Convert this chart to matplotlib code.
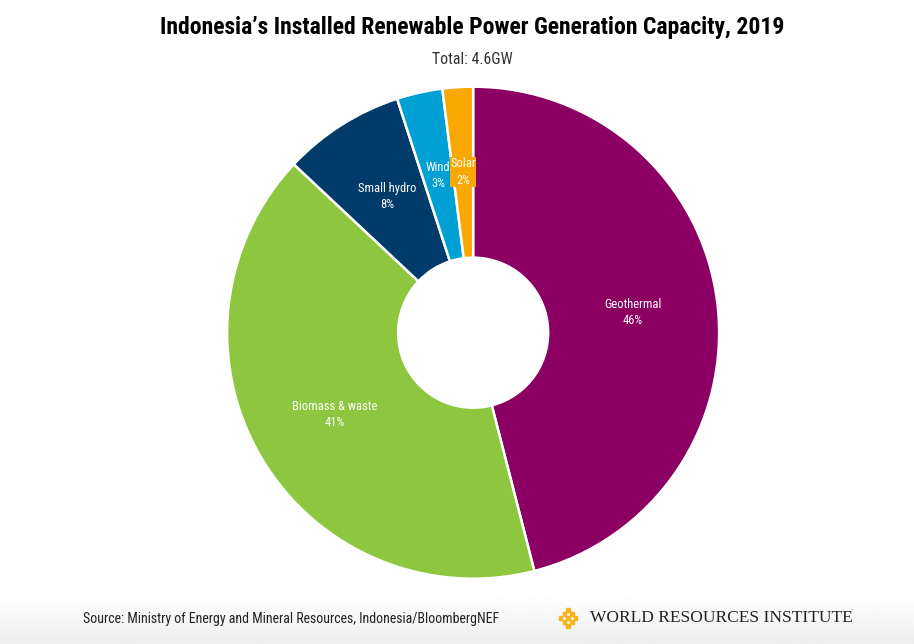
import numpy as np
import matplotlib.pyplot as plt

plt.rcParams['font.family'] = ['Roboto Condensed', 'DejaVu Sans']

# data
sources = ['Geothermal', 'Biomass & waste', 'Small hydro', 'Wind', 'Solar']
shares = [46, 41, 8, 3, 2]
colors = ['#8B0062', '#8DC63F', '#003B6B', '#009FD4', '#F8A800']

fig = plt.figure(figsize=(9.14, 6.44), dpi=100)

# light gradient band at the bottom
bg = fig.add_axes([0, 0, 1, 0.075])
grad = np.linspace(1.0, 0.93, 50).reshape(-1, 1)
bg.imshow(grad, aspect='auto', cmap='gray', vmin=0, vmax=1, extent=[0, 1, 0, 1])
bg.axis('off')

ax = fig.add_axes([0.2485, 0.1014, 0.5383, 0.764])
wedges, _ = ax.pie(shares, colors=colors, startangle=90, counterclock=False,
                   radius=1.0, wedgeprops=dict(width=0.695, edgecolor='white', linewidth=1.8))
ax.set_xlim(-1.0, 1.0)
ax.set_ylim(-1.0, 1.0)
ax.set_aspect('equal')

# labels
angle = 90.0
for name, val in zip(sources, shares):
    span = val / 100 * 360
    mid = np.deg2rad(angle - span / 2)
    angle -= span
    r = 0.655
    x, y = r * np.cos(mid), r * np.sin(mid)
    kw = {}
    if name == 'Solar':
        kw['bbox'] = dict(boxstyle='square,pad=0.05', fc='#F8A800', ec='none')
    ax.text(x, y, f'{name}\n{val}%', ha='center', va='center', color='white',
            fontsize=9, linespacing=1.35, **kw)

fig.text(0.517, 0.957, 'Indonesia\u2019s Installed Renewable Power Generation Capacity, 2019',
         ha='center', va='center', fontsize=17, fontweight=800, color='black')
fig.text(0.517, 0.907, 'Total: 4.6GW', ha='center', va='center', fontsize=11.4, color='#333333')
fig.text(0.091, 0.039, 'Source: Ministry of Energy and Mineral Resources, Indonesia/BloombergNEF',
         ha='left', va='center', fontsize=10, color='#222222')

# logo
lg = fig.add_axes([0.607, 0.019, 0.029, 0.043])
for i in range(-3, 4):
    for j in range(-3, 4):
        if abs(i) + abs(j) <= 3 and (i + j) % 2 == 0:
            lg.add_patch(plt.Rectangle((i - 0.45, j - 0.45), 0.9, 0.9, color='#F8B21C'))
lg.set_xlim(-3.5, 3.5)
lg.set_ylim(-3.5, 3.5)
lg.axis('off')
fig.text(0.645, 0.041, 'WORLD RESOURCES INSTITUTE', ha='left', va='center',
         fontsize=12.5, family=['Liberation Serif', 'DejaVu Serif'], color='#222222')

fig.savefig('out.png', dpi=100)
